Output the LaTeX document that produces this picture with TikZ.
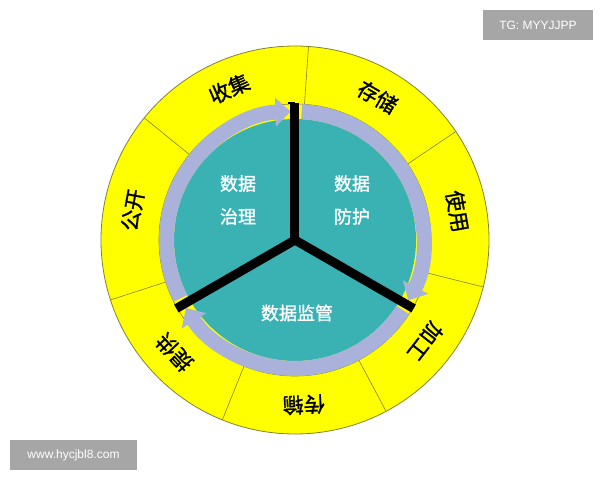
\documentclass[tikz,border=0pt]{standalone}
\usepackage{fontspec}
\newfontfamily\cjk[FakeBold=1.2]{Noto Sans CJK SC}
\newfontfamily\wmfont{Liberation Sans}
\usetikzlibrary{arrows.meta}
\definecolor{ringyellow}{RGB}{255,255,0}
\definecolor{ringedge}{RGB}{130,130,50}
\definecolor{coreteal}{RGB}{58,178,180}
\definecolor{flowlav}{RGB}{170,178,220}
\definecolor{wmgray}{RGB}{166,166,166}
\tikzset{
  seglabel/.style={font=\cjk\fontsize{21}{21}\selectfont, inner sep=0pt},
  corelabel/.style={font=\cjk\fontsize{18}{33}\selectfont, text=white, align=center, inner sep=0pt},
  flow/.style={draw=flowlav, line width=15pt, -{Triangle[width=28pt,length=15pt]}},
  spoke/.style={line width=9pt},
  divider/.style={draw=ringedge, line width=0.6pt},
  wmbox/.style={fill=wmgray, text=white, font=\wmfont\fontsize{12}{12}\selectfont, inner sep=0pt}
}
\begin{document}
\begin{tikzpicture}[x=1pt,y=1pt]
\useasboundingbox (-295,-240) rectangle (305,240);

\fill[ringyellow, draw=ringedge, line width=0.8pt] (0,0) circle [radius=194pt];
\draw[ringedge, line width=0.6pt] (0,0) circle [radius=136pt];

\draw[divider] (86:136) -- (86:194);
\draw[divider] (34:136) -- (34:194);
\draw[divider] (-14:136) -- (-14:194);
\draw[divider] (-62:136) -- (-62:194);
\draw[divider] (-112:136) -- (-112:194);
\draw[divider] (198:136) -- (198:194);
\draw[divider] (141:136) -- (141:194);

\node[seglabel, rotate=23.5] (collect) at (113.5:165) {收集};
\node[seglabel, rotate=-30] (store) at (60:165) {存储};
\node[seglabel, rotate=-80] (use) at (10:165) {使用};
\node[seglabel, rotate=-128] (process) at (-38:165) {加工};
\node[seglabel, rotate=-177] (transfer) at (-87:165) {传输};
\node[seglabel, rotate=133] (provide) at (-137:165) {提供};
\node[seglabel, rotate=79.5] (publish) at (169.5:165) {公开};

\fill[coreteal] (0,0) circle [radius=121pt];

\draw[flow] (87:128.5) arc [start angle=87, end angle=-28, radius=128.5pt];
\draw[flow] (-33:128.5) arc [start angle=-33, end angle=-148, radius=128.5pt];
\draw[flow] (207:128.5) arc [start angle=207, end angle=92, radius=128.5pt];

\coordinate (hub) at (0,0);
\coordinate (upend) at (90:137);
\coordinate (rightend) at (-30:137);
\coordinate (leftend) at (210:137);
\draw[spoke] (hub) -- (upend);
\draw[spoke] (hub) -- (rightend);
\draw[spoke] (hub) -- (leftend);
\fill (hub) circle [radius=5pt];
\draw[line width=2pt] ([xshift=-7pt]upend) -- (upend);

\node[corelabel] (govern) at (-57,40) {数据\\治理};
\node[corelabel] (protect) at (57,40) {数据\\防护};
\node[corelabel] (supervise) at (2,-73) {数据监管};

\node[wmbox, minimum width=110pt, minimum height=30pt] (tag) at (243,215) {TG: MYYJJPP};
\node[wmbox, minimum width=127pt, minimum height=30pt] (site) at (-221.5,-215) {www.hycjbl8.com};
\end{tikzpicture}
\end{document}
